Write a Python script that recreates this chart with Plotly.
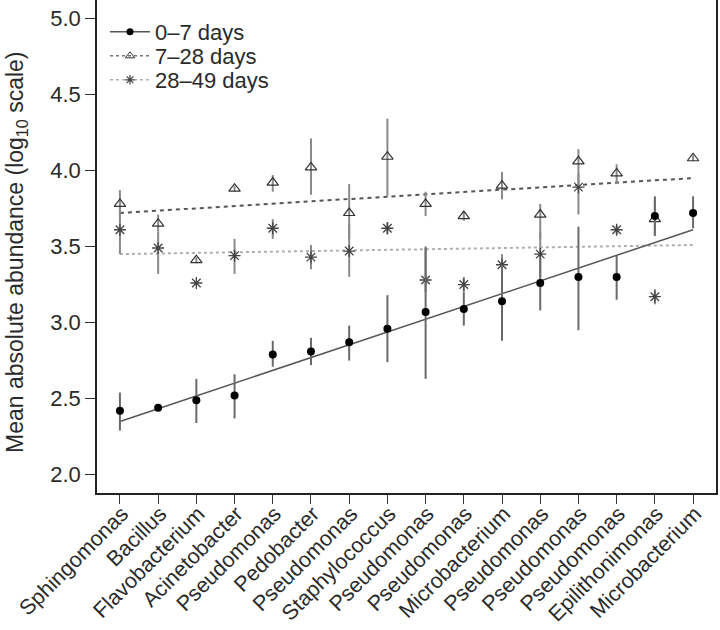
import plotly.graph_objects as go

categories = ["Sphingomonas", "Bacillus", "Flavobacterium", "Acinetobacter", "Pseudomonas",
              "Pedobacter", "Pseudomonas", "Staphylococcus", "Pseudomonas", "Pseudomonas",
              "Microbacterium", "Pseudomonas", "Pseudomonas", "Pseudomonas", "Epilithonimonas",
              "Microbacterium"]
positions = list(range(1, 17))

d07_mean = [2.42, 2.44, 2.49, 2.52, 2.79, 2.81, 2.87, 2.96, 3.07, 3.09, 3.14, 3.26, 3.30, 3.30, 3.70, 3.72]
d07_hi = [2.54, 2.45, 2.63, 2.66, 2.88, 2.90, 2.98, 3.18, 3.50, 3.20, 3.38, 3.42, 3.63, 3.44, 3.83, 3.83]
d07_lo = [2.29, 2.43, 2.34, 2.37, 2.71, 2.72, 2.75, 2.74, 2.63, 2.98, 2.88, 3.08, 2.95, 3.15, 3.57, 3.62]

d728_mean = [3.78, 3.65, 3.41, 3.88, 3.92, 4.02, 3.72, 4.09, 3.78, 3.70, 3.90, 3.71, 4.06, 3.98, 3.68, 4.08]
d728_hi = [3.87, 3.71, 3.43, 3.90, 3.97, 4.21, 3.91, 4.34, 3.86, 3.73, 3.99, 3.78, 4.14, 4.04, 3.81, 4.10]
d728_lo = [3.70, 3.60, 3.39, 3.86, 3.86, 3.84, 3.55, 3.83, 3.70, 3.67, 3.81, 3.55, 3.90, 3.91, 3.57, 4.06]

d2849_mean = [3.61, 3.49, 3.26, 3.44, 3.62, 3.43, 3.47, 3.62, 3.28, 3.25, 3.38, 3.45, 3.89, 3.61, 3.17, None]
d2849_hi = [3.75, 3.60, 3.27, 3.55, 3.68, 3.51, 3.65, 3.66, 3.49, 3.30, 3.45, 3.60, 3.98, 3.64, 3.22, None]
d2849_lo = [3.45, 3.32, 3.25, 3.32, 3.55, 3.35, 3.30, 3.58, 3.20, 3.20, 3.30, 3.30, 3.71, 3.58, 3.12, None]

# fitted trend lines (value at first and last category)
trend_x = [1, 16]
trend_07 = [2.35, 3.61]
trend_728 = [3.72, 3.95]
trend_2849 = [3.45, 3.51]

series_labels = ["0\u20137 days", "7\u201328 days", "28\u201349 days"]
y_ticks = [2.0, 2.5, 3.0, 3.5, 4.0, 4.5, 5.0]
y_title = "Mean absolute abundance (log<sub>10</sub> scale)"


def errs(mean, hi, lo):
    up = [None if m is None else h - m for m, h in zip(mean, hi)]
    dn = [None if m is None else m - l for m, l in zip(mean, lo)]
    return up, dn


FONT = "Liberation Sans, Arial, sans-serif"
TXT = "#2a2a2a"
fig = go.Figure()

# trend lines
fig.add_trace(go.Scatter(x=trend_x, y=trend_2849, mode="lines", showlegend=False,
                         line=dict(color="#b0b0b0", width=2, dash="dot")))
fig.add_trace(go.Scatter(x=trend_x, y=trend_728, mode="lines", showlegend=False,
                         line=dict(color="#555555", width=2, dash="4px,4px")))
fig.add_trace(go.Scatter(x=trend_x, y=trend_07, mode="lines", showlegend=False,
                         line=dict(color="#555555", width=1.5)))

# points with error bars
up, dn = errs(d2849_mean, d2849_hi, d2849_lo)
fig.add_trace(go.Scatter(x=positions, y=d2849_mean, mode="markers", showlegend=False,
                         marker=dict(symbol="asterisk-open", size=10, color="#444444",
                                     line=dict(width=1.3, color="#555555")),
                         error_y=dict(type="data", array=up, arrayminus=dn, symmetric=False,
                                      color="#8a8a8a", thickness=2, width=0)))
up, dn = errs(d728_mean, d728_hi, d728_lo)
fig.add_trace(go.Scatter(x=positions, y=d728_mean, mode="markers", showlegend=False,
                         marker=dict(symbol="triangle-up-open", size=10, color="#333333",
                                     line=dict(width=1.2, color="#333333")),
                         error_y=dict(type="data", array=up, arrayminus=dn, symmetric=False,
                                      color="#8a8a8a", thickness=2, width=0)))
up, dn = errs(d07_mean, d07_hi, d07_lo)
fig.add_trace(go.Scatter(x=positions, y=d07_mean, mode="markers", showlegend=False,
                         marker=dict(symbol="circle", size=8, color="black"),
                         error_y=dict(type="data", array=up, arrayminus=dn, symmetric=False,
                                      color="#6a6a6a", thickness=2, width=0)))

# legend entries (one small legend per series so the rows can sit close together)
fig.add_trace(go.Scatter(x=[None], y=[None], mode="lines+markers", name=series_labels[0],
                         legend="legend",
                         line=dict(color="#555555", width=1.5),
                         marker=dict(symbol="circle", size=7, color="black")))
fig.add_trace(go.Scatter(x=[None], y=[None], mode="lines+markers", name=series_labels[1],
                         legend="legend2",
                         line=dict(color="#777777", width=1.5, dash="3px,3px"),
                         marker=dict(symbol="triangle-up-open", size=8, color="#333333")))
fig.add_trace(go.Scatter(x=[None], y=[None], mode="lines+markers", name=series_labels[2],
                         legend="legend3",
                         line=dict(color="#b0b0b0", width=1.5, dash="3px,3px"),
                         marker=dict(symbol="asterisk-open", size=8, color="#444444",
                                     line=dict(width=1.2, color="#444444"))))

PLOT_H = 630 - 137


def leg(row_px):
    return dict(x=8 / 619, y=1 - row_px / PLOT_H, xanchor="left", yanchor="middle",
                bgcolor="rgba(0,0,0,0)", font=dict(size=22, color=TXT), itemwidth=40)


fig.update_layout(
    width=720, height=630,
    margin=dict(l=97, r=4, t=0, b=137, autoexpand=False),
    paper_bgcolor="white", plot_bgcolor="white",
    font=dict(family=FONT, size=22, color=TXT),
    legend=leg(32), legend2=leg(56), legend3=leg(80),
    xaxis=dict(range=[0.4, 16.6], tickmode="array", tickvals=positions, ticktext=categories,
               tickangle=-45, ticks="outside", ticklen=9, tickcolor="#333333",
               showgrid=False, zeroline=False, showline=True, linecolor="#222222",
               linewidth=1.5, mirror=True, tickfont=dict(size=21.5, color=TXT),
               ticklabelstandoff=-11, ticklabelshift=2, automargin=False),
    yaxis=dict(range=[1.88, 5.12], tickmode="array", tickvals=y_ticks,
               ticktext=[f"{v:.1f}" for v in y_ticks],
               ticks="outside", ticklen=10, tickcolor="#333333",
               showgrid=False, zeroline=False, showline=True, linecolor="#222222",
               linewidth=1.5, mirror=True, tickfont=dict(size=22, color=TXT),
               automargin=False),
    annotations=[dict(text=y_title, xref="paper", yref="paper",
                      x=(16 - 97) / 619, y=1 - 252 / 493, xanchor="center", yanchor="middle",
                      textangle=-90, showarrow=False, font=dict(size=23, color=TXT))],
)

fig.write_html("out.html", config={"displayModeBar": False},
               post_script="document.body.style.margin='0';")
